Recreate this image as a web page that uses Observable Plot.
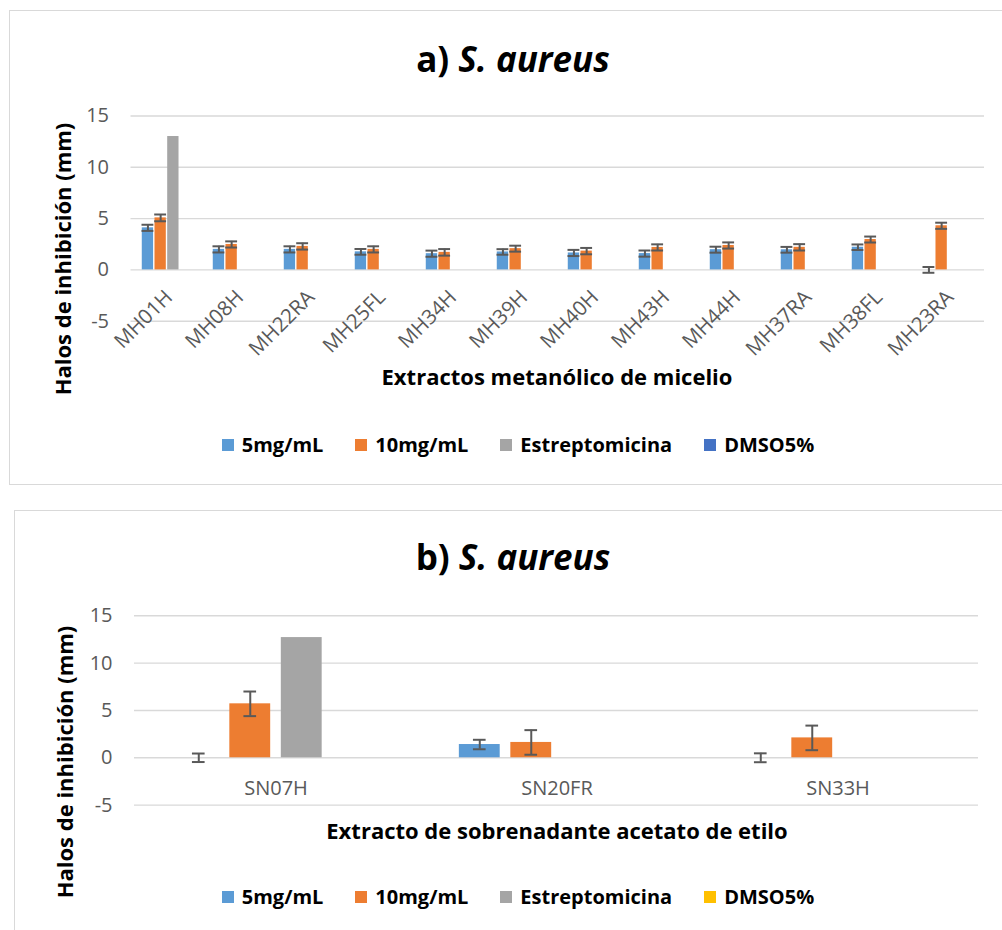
<!DOCTYPE html>
<html>
<head>
<meta charset="utf-8">
<script src="https://cdn.jsdelivr.net/npm/d3@7"></script>
<script src="https://cdn.jsdelivr.net/npm/@observablehq/plot@0.6"></script>
<style>
  body { margin: 0; background: #fff; font-family: "Open Sans", sans-serif; }
  #page { position: relative; width: 1002px; height: 930px; overflow: hidden; background: #fff; }
  .panel { position: absolute; border: 1px solid #D9D9D9; box-sizing: border-box; }
  .title { position: absolute; left: 0; width: 1026px; text-align: center; font-weight: 700; font-size: 35px; color: #000; line-height: 42px; white-space: nowrap; }
  .title i { font-style: italic; }
  .ylab { position: absolute; font-weight: 700; font-size: 22px; color: #000; white-space: nowrap; transform: translate(-50%, -50%) rotate(-90deg); line-height: 26px; }
  .xlab { position: absolute; left: 0; width: 1114px; text-align: center; font-weight: 700; font-size: 22px; color: #000; line-height: 28px; white-space: nowrap; }
  .legend { position: absolute; left: 0; width: 1036px; display: flex; justify-content: center; align-items: center; font-weight: 700; font-size: 20px; color: #000; line-height: 26px; }
  .legend .item { display: flex; align-items: center; margin: 0 16px; }
  .legend .sw { width: 12px; height: 12px; margin-right: 8px; display: inline-block; }
  .chart { position: absolute; left: 0; }
</style>
</head>
<body>
<div id="page">
  <div class="panel" style="left:9px; top:10px; width:1010px; height:475px;"></div>
  <div class="panel" style="left:14px; top:510px; width:1010px; height:440px;"></div>

  <div class="title" style="top:38px;">a) <i>S. aureus</i></div>
  <div class="title" style="top:536px;">b) <i>S. aureus</i></div>

  <div class="ylab" style="left:62px; top:259px;">Halos de inhibición (mm)</div>
  <div class="ylab" style="left:64px; top:762px;">Halos de inhibición (mm)</div>

  <div class="xlab" style="top:362px;">Extractos metanólico de micelio</div>
  <div class="xlab" style="top:816px;">Extracto de sobrenadante acetato de etilo</div>

  <div id="chartA" class="chart" style="top:0px;"></div>
  <div id="chartB" class="chart" style="top:500px;"></div>

  <div id="legendA" class="legend" style="top:432px;"></div>
  <div id="legendB" class="legend" style="top:884px;"></div>
</div>

<script>
// ---------- data ----------
const seriesNames = ["5mg/mL", "10mg/mL", "Estreptomicina", "DMSO5%"];
const colorsA = ["#5B9BD5", "#ED7D31", "#A5A5A5", "#4472C4"];
const colorsB = ["#5B9BD5", "#ED7D31", "#A5A5A5", "#FFC000"];
const yTicks = [-5, 0, 5, 10, 15];

// a) Extractos metanólico de micelio
const catsA = ["MH01H", "MH08H", "MH22RA", "MH25FL", "MH34H", "MH39H", "MH40H", "MH43H", "MH44H", "MH37RA", "MH38FL", "MH23RA"];
const a5mg     = [4.1, 2.0, 2.0, 1.76, 1.58, 1.75, 1.65, 1.59, 1.97, 1.96, 2.21, 0];
const a5mgErr  = [0.3, 0.3, 0.3, 0.28, 0.3, 0.27, 0.3, 0.3, 0.29, 0.28, 0.27, 0.28];
const a10mg    = [5.07, 2.48, 2.29, 2.0, 1.71, 2.07, 1.83, 2.19, 2.38, 2.2, 2.96, 4.3];
const a10mgErr = [0.33, 0.3, 0.31, 0.3, 0.32, 0.29, 0.31, 0.3, 0.3, 0.31, 0.29, 0.3];
const aStrep   = [13.0, 0, 0, 0, 0, 0, 0, 0, 0, 0, 0, 0];
const aDmso    = [0, 0, 0, 0, 0, 0, 0, 0, 0, 0, 0, 0];

// b) Extracto de sobrenadante acetato de etilo
const catsB = ["SN07H", "SN20FR", "SN33H"];
const b5mg     = [0, 1.4, 0];
const b5mgErr  = [0.45, 0.5, 0.47];
const b10mg    = [5.7, 1.62, 2.1];
const b10mgErr = [1.3, 1.3, 1.3];
const bStrep   = [12.7, 0, 0];
const bDmso    = [0, 0, 0];

// ---------- build rows ----------
function buildRows(cats, vals, errs) {
  const rows = [];
  cats.forEach((c, j) => {
    vals.forEach((arr, si) => {
      rows.push({cat: c, si, series: seriesNames[si], value: arr[j], err: errs[si] ? errs[si][j] : null});
    });
  });
  return rows;
}

function makeChart(cfg) {
  const {cats, rows, colors, width, height, ml, mr, mt, mb, groupFrac, barFrac, capW, labelRotate, labelDy, labelDx, labelSize} = cfg;
  const bw = (width - ml - mr) / cats.length;
  const group = groupFrac * bw;
  const slot = group / 4;
  const barW = barFrac * slot;
  const marks = [];
  marks.push(Plot.ruleY(yTicks, {stroke: "#D9D9D9", strokeWidth: 1.4}));
  for (let i = 0; i < 4; i++) {
    const center = (bw - group) / 2 + slot * (i + 0.5);
    const data = rows.filter(d => d.si === i && d.value !== 0);
    marks.push(Plot.barY(data, {
      x: "cat", y1: () => 0, y2: "value", fill: colors[i],
      insetLeft: center - barW / 2, insetRight: bw - center - barW / 2
    }));
  }
  for (let i = 0; i < 4; i++) {
    const center = (bw - group) / 2 + slot * (i + 0.5);
    const edata = rows.filter(d => d.si === i && d.err != null);
    marks.push(Plot.ruleX(edata, {
      x: "cat", y1: d => d.value - d.err, y2: d => d.value + d.err,
      stroke: "#595959", strokeWidth: 2, dx: center - bw / 2
    }));
    marks.push(Plot.tickY(edata, {
      x: "cat", y: d => d.value - d.err, stroke: "#595959", strokeWidth: 2,
      insetLeft: center - capW / 2, insetRight: bw - center - capW / 2
    }));
    marks.push(Plot.tickY(edata, {
      x: "cat", y: d => d.value + d.err, stroke: "#595959", strokeWidth: 2,
      insetLeft: center - capW / 2, insetRight: bw - center - capW / 2
    }));
  }
  marks.push(Plot.text(cats, {
    x: d => d, y: () => 0, text: d => d,
    rotate: labelRotate, textAnchor: labelRotate ? "end" : "middle",
    dy: labelDy, dx: labelDx, fontSize: labelSize, fill: "#595959"
  }));
  return Plot.plot({
    width, height,
    marginLeft: ml, marginRight: mr, marginTop: mt, marginBottom: mb,
    style: {fontFamily: "Open Sans, sans-serif", fontSize: "20px", color: "#595959", background: "transparent", overflow: "visible"},
    x: {type: "band", domain: cats, padding: 0, axis: null},
    y: {domain: [-5, 15], ticks: yTicks, tickSize: 0, tickPadding: 22, tickFormat: d => String(d), label: null},
    marks
  });
}

const rowsA = buildRows(catsA, [a5mg, a10mg, aStrep, aDmso], [a5mgErr, a10mgErr, null, null]);
const rowsB = buildRows(catsB, [b5mg, b10mg, bStrep, bDmso], [b5mgErr, b10mgErr, null, null]);

document.getElementById("chartA").appendChild(makeChart({
  cats: catsA, rows: rowsA, colors: colorsA,
  width: 1002, height: 380, ml: 130.5, mr: 18, mt: 115.5, mb: 59.3,
  groupFrac: 0.715, barFrac: 0.9, capW: 12, labelRotate: -45, labelDy: 24, labelDx: 2, labelSize: 20.5
}));
document.getElementById("chartB").appendChild(makeChart({
  cats: catsB, rows: rowsB, colors: colorsB,
  width: 1002, height: 320, ml: 134, mr: 24, mt: 115.3, mb: 15.4,
  groupFrac: 0.732, barFrac: 0.8, capW: 13, labelRotate: 0, labelDy: 31, labelDx: 0, labelSize: 20
}));

function makeLegend(el, colors) {
  seriesNames.forEach((s, i) => {
    const item = document.createElement("div");
    item.className = "item";
    const sw = document.createElement("span");
    sw.className = "sw";
    sw.style.background = colors[i];
    const t = document.createElement("span");
    t.textContent = s;
    item.appendChild(sw); item.appendChild(t);
    el.appendChild(item);
  });
}
makeLegend(document.getElementById("legendA"), colorsA);
makeLegend(document.getElementById("legendB"), colorsB);
</script>
</body>
</html>
